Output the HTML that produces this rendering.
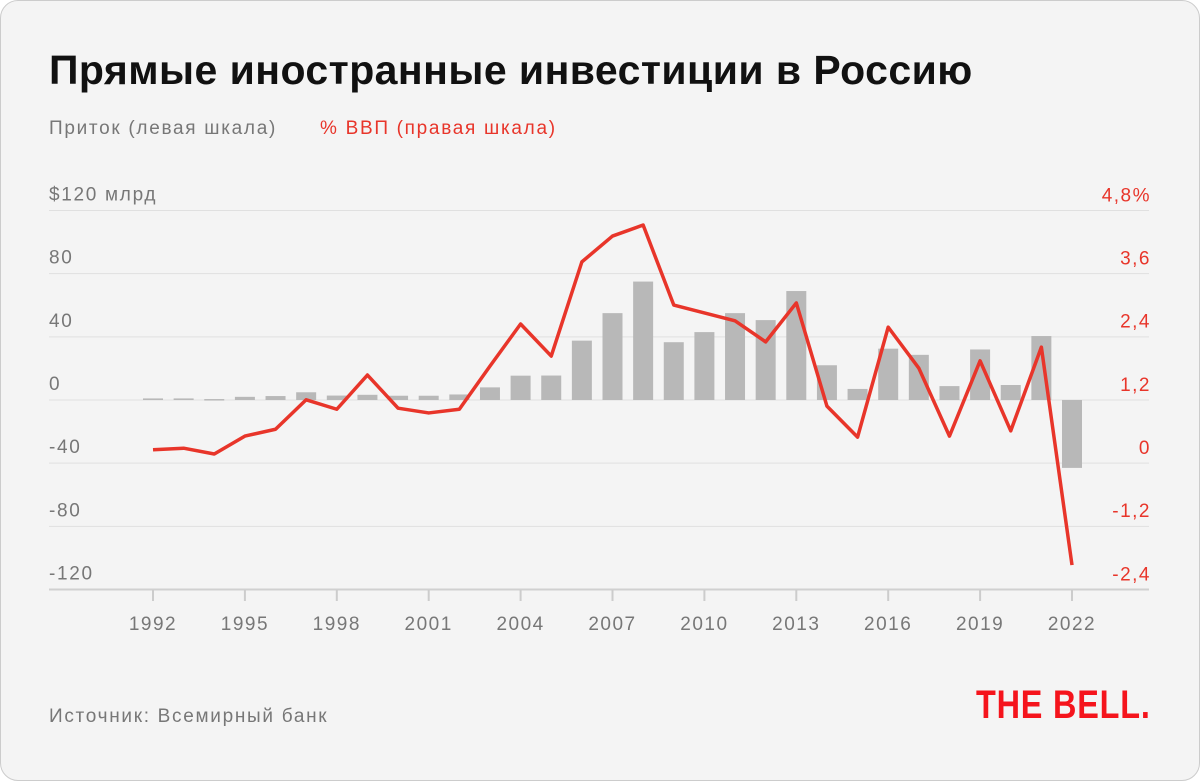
<!DOCTYPE html>
<html><head><meta charset="utf-8"><style>
body{margin:0;background:#fff;}
#card{position:absolute;left:0;top:0;width:1198px;height:779px;border:1px solid #ccc;border-radius:18px;background:#f4f4f4;overflow:hidden;font-family:"Liberation Sans","Noto Sans CJK SC",sans-serif;}
.t{position:absolute;white-space:nowrap;}
</style></head><body>
<div id="card">
<div class="t" style="left:48px;top:46px;font-size:41px;font-weight:bold;color:#111;letter-spacing:0.45px;">Прямые иностранные инвестиции в Россию</div>
<div class="t" style="left:48px;top:117px;font-size:19px;color:#777;letter-spacing:1.7px;">Приток (левая шкала)</div>
<div class="t" style="left:319px;top:117px;font-size:19px;color:#e8352a;letter-spacing:1.7px;">% ВВП (правая шкала)</div>
<svg id="chart" width="1200" height="781" style="position:absolute;left:0;top:0"></svg>
<div class="t" style="left:48px;top:705px;font-size:19px;color:#777;letter-spacing:1.7px;">Источник: Всемирный банк</div>
<div class="t" style="left:975px;top:682px;font-size:40px;font-weight:900;color:#f5141c;transform:scaleX(0.81);transform-origin:left top;letter-spacing:1px;">THE BELL.</div>
</div>
<script>
const years=[1992,1993,1994,1995,1996,1997,1998,1999,2000,2001,2002,2003,2004,2005,2006,2007,2008,2009,2010,2011,2012,2013,2014,2015,2016,2017,2018,2019,2020,2021,2022];
const inflow=[1,1,0.6,2,2.5,4.9,2.8,3.3,2.7,2.7,3.5,8,15.4,15.5,37.6,55,75,36.6,43,55,50.6,69,22,7,32.5,28.6,8.8,32,9.5,40.5,-43];
const gdpPct=[0.27,0.30,0.19,0.53,0.66,1.22,1.04,1.69,1.06,0.97,1.04,1.86,2.66,2.05,3.84,4.33,4.54,3.02,2.87,2.72,2.32,3.06,1.10,0.51,2.60,1.82,0.53,1.96,0.63,2.22,-1.92];
const leftTicks=[120,80,40,0,-40,-80,-120];
const leftLabels=["$120 млрд","80","40","0","-40","-80","-120"];
const rightTicks=[4.8,3.6,2.4,1.2,0,-1.2,-2.4];
const rightLabels=["4,8%","3,6","2,4","1,2","0","-1,2","-2,4"];
const yearLabels=[1992,1995,1998,2001,2004,2007,2010,2013,2016,2019,2022];
const NS="http://www.w3.org/2000/svg";
const svg=document.getElementById('chart');
const x=y=>152+(y-1992)*(1071-152)/30;
const yL=v=>399-v*(589-210)/240;
const yR=v=>463-v*(589-210)/7.2;
function mk(tag,at){const e=document.createElementNS(NS,tag);for(const k in at)e.setAttribute(k,at[k]);svg.appendChild(e);return e;}
leftTicks.forEach((t,i)=>{
 const g=mk('line',{x1:48,x2:1148,y1:yL(t),y2:yL(t),stroke:i==6?'#d0d0d0':'#e0e0e0','stroke-width':i==6?2:1});
 
 
 const l=mk('text',{x:48,y:yL(t)-10,'font-size':19,fill:'#777','font-family':'Liberation Sans','letter-spacing':1.7});l.textContent=leftLabels[i];
 
 
 const r=mk('text',{x:1150,y:yR(rightTicks[i])-10,'font-size':19,fill:'#e8352a','text-anchor':'end','font-family':'Liberation Sans','letter-spacing':1.5});r.textContent=rightLabels[i];
 
 
});
years.forEach((yr,i)=>{
 const v=inflow[i];const top=Math.min(yL(v),yL(0));const h=Math.abs(yL(v)-yL(0));
 const b=mk('rect',{x:x(yr)-10,y:top,width:20,height:Math.max(h,1.5),fill:'#b8b8b8'});
 
 
});
yearLabels.forEach(yr=>{
 const tk=mk('line',{x1:x(yr),x2:x(yr),y1:589,y2:600,stroke:'#ccc','stroke-width':2});
 
 
 const t=mk('text',{x:x(yr),y:629,'font-size':19,fill:'#777','text-anchor':'middle','font-family':'Liberation Sans','letter-spacing':1.5});t.textContent=yr;
 
 
});
const p=mk('polyline',{points:years.map((yr,i)=>x(yr)+','+yR(gdpPct[i])).join(' '),fill:'none',stroke:'#e8352a','stroke-width':3.5,'stroke-linejoin':'round'});


</script>
</body></html>
